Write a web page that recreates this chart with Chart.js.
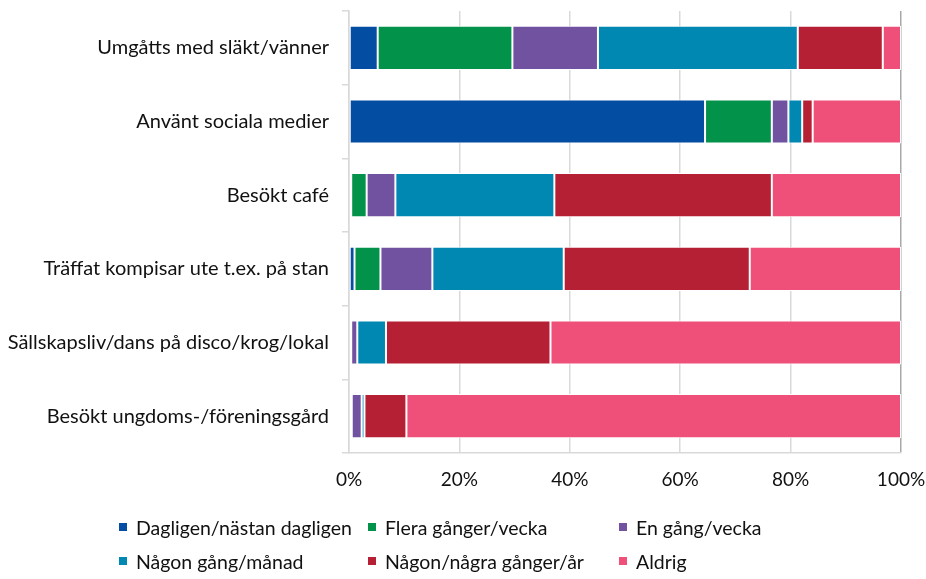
<!DOCTYPE html>
<html>
<head>
<meta charset="utf-8">
<script src="https://cdn.jsdelivr.net/npm/chart.js@4"></script>
<style>
  html, body { margin: 0; padding: 0; background: #fff; }
  #wrap { position: relative; width: 926px; height: 579px; }
  #legend { position: absolute; left: 0; top: 0; width: 926px; height: 579px; pointer-events: none;
            font-family: Lato, sans-serif; font-size: 19.5px; color: #111; }
  .item { position: absolute; display: flex; align-items: center; white-space: nowrap; height: 24px; }
  .sw { width: 8px; height: 8px; margin-right: 9px; flex: none; }
</style>
</head>
<body>
<div id="wrap">
  <canvas id="c" width="926" height="579"></canvas>
  <div id="legend"></div>
</div>
<script>
const categories = [
  "Umgåtts med släkt/vänner",
  "Använt sociala medier",
  "Besökt café",
  "Träffat kompisar ute t.ex. på stan",
  "Sällskapsliv/dans på disco/krog/lokal",
  "Besökt ungdoms-/föreningsgård"
];
const seriesLabels = [
  "Dagligen/nästan dagligen",
  "Flera gånger/vecka",
  "En gång/vecka",
  "Någon gång/månad",
  "Någon/några gånger/år",
  "Aldrig"
];
const daily       = [5.2, 64.5, 0.4, 1.0, 0.2, 0.2];
const severalWeek = [24.4, 12.1, 2.8, 4.7, 0.2, 0.3];
const onceWeek    = [15.5, 3.0, 5.2, 9.4, 1.1, 1.8];
const someMonth   = [36.2, 2.5, 28.8, 23.8, 5.2, 0.5];
const someYear    = [15.4, 1.9, 39.4, 33.7, 29.8, 7.6];
const never       = [3.3, 16.0, 23.4, 27.4, 63.5, 89.6];
const xTickValues = [0, 20, 40, 60, 80, 100];

const seriesValues = [daily, severalWeek, onceWeek, someMonth, someYear, never];
const colors = ["#034EA2", "#02924A", "#7052A0", "#0088B3", "#B52035", "#EF5079"];

Chart.defaults.font.family = "Lato";
Chart.defaults.font.size = 19;
Chart.defaults.color = "#111111";

const datasets = seriesLabels.map((lab, i) => ({
  label: lab,
  data: seriesValues[i],
  backgroundColor: colors[i],
  borderColor: "#ffffff",
  borderWidth: 1,
  borderSkipped: false,
  barPercentage: 0.6,
  categoryPercentage: 1.0
}));

new Chart(document.getElementById("c"), {
  type: "bar",
  data: { labels: categories, datasets },
  options: {
    responsive: false,
    animation: false,
    indexAxis: "y",
    layout: { padding: { left: 0, right: 25, top: 11, bottom: 86 } },
    plugins: { legend: { display: false }, tooltip: { enabled: false } },
    scales: {
      x: {
        stacked: true,
        min: 0, max: 100,
        afterBuildTicks: (s) => { s.ticks = xTickValues.map(v => ({ value: v })); },
        afterFit: (s) => { s.height = 40; s.paddingLeft = 0; s.paddingRight = 0; },
        ticks: { padding: 15, font: { size: 19 }, callback: (v) => v + "%", maxRotation: 0 },
        grid: {
          drawTicks: false,
          lineWidth: 1.5,
          color: (ctx) => (ctx.tick && ctx.tick.value === 100) ? "#a8a8a8" : "#d9d9d9"
        },
        border: { display: true, color: "#d9d9d9", width: 1.5 }
      },
      y: {
        stacked: true,
        afterFit: (s) => { s.width = 349; s.paddingTop = 0; s.paddingBottom = 0; },
        ticks: { padding: 13, font: { size: 20 } },
        grid: {
          offset: true,
          drawOnChartArea: false,
          drawTicks: true,
          tickLength: 7,
          color: "#d9d9d9",
          lineWidth: 1.5
        },
        border: { display: true, color: "#d9d9d9", width: 1.5 }
      }
    }
  }
});

// Legend (HTML) built from series labels and colours
const legendPos = [
  [119, 527], [368, 527], [619, 527],
  [119, 561], [368, 561], [619, 561]
];
const lg = document.getElementById("legend");
seriesLabels.forEach((lab, i) => {
  const d = document.createElement("div");
  d.className = "item";
  d.style.left = legendPos[i][0] + "px";
  d.style.top = (legendPos[i][1] - 12) + "px";
  const sw = document.createElement("span");
  sw.className = "sw";
  sw.style.background = colors[i];
  const t = document.createElement("span");
  t.textContent = lab;
  d.appendChild(sw); d.appendChild(t);
  lg.appendChild(d);
});
</script>
</body>
</html>
